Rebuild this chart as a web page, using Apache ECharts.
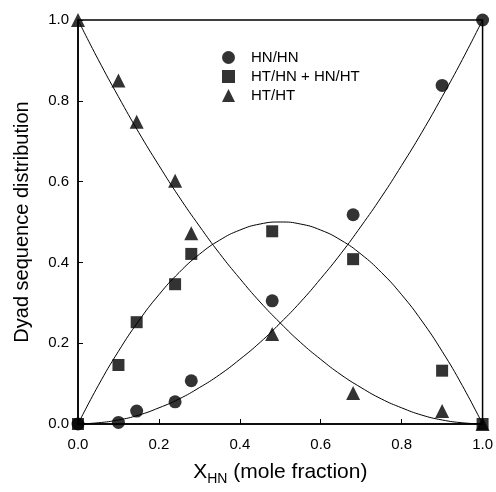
<!DOCTYPE html>
<html>
<head>
<meta charset="utf-8">
<script src="https://cdn.jsdelivr.net/npm/echarts@6/dist/echarts.min.js"></script>
<style>
  html, body { margin: 0; padding: 0; background: #fff; }
  #main { width: 496px; height: 492px; }
</style>
</head>
<body>
<div id="main"></div>
<script>
// measured points
const xData = [0, 0.1, 0.145, 0.24, 0.28, 0.48, 0.68, 0.9, 1.0];
const hnhn = [0, 0.004, 0.032, 0.055, 0.107, 0.305, 0.518, 0.838, 1.0];
const hthn = [0, 0.146, 0.252, 0.346, 0.421, 0.477, 0.408, 0.132, 0];
const htht = [1.0, 0.85, 0.748, 0.602, 0.472, 0.223, 0.077, 0.032, 0];

// fitted curves, every 0.05
const curveX = [0, 0.05, 0.1, 0.15, 0.2, 0.25, 0.3, 0.35, 0.4, 0.45, 0.5, 0.55, 0.6, 0.65, 0.7, 0.75, 0.8, 0.85, 0.9, 0.95, 1.0];
const curveHN = [0, 0.003, 0.01, 0.022, 0.04, 0.062, 0.09, 0.122, 0.16, 0.202, 0.25, 0.302, 0.36, 0.422, 0.49, 0.562, 0.64, 0.722, 0.81, 0.902, 1.0];
const curveHT = [0, 0.095, 0.18, 0.255, 0.32, 0.375, 0.42, 0.455, 0.48, 0.495, 0.5, 0.495, 0.48, 0.455, 0.42, 0.375, 0.32, 0.255, 0.18, 0.095, 0];
const curveTT = [1.0, 0.902, 0.81, 0.722, 0.64, 0.562, 0.49, 0.422, 0.36, 0.302, 0.25, 0.202, 0.16, 0.122, 0.09, 0.062, 0.04, 0.022, 0.01, 0.003, 0];

const names = ['HN/HN', 'HT/HN + HN/HT', 'HT/HT'];
const font = 'Liberation Sans, Arial, sans-serif';

const pairs = (xs, ys) => xs.map((x, i) => [x, ys[i]]);

const chart = echarts.init(document.getElementById('main'));

const curve = ys => ({
  type: 'line',
  data: pairs(curveX, ys),
  smooth: true,
  showSymbol: false,
  silent: true,
  z: 1,
  lineStyle: { color: '#000', width: 1 }
});

const axisCommon = {
  type: 'value',
  min: 0,
  max: 1,
  interval: 0.2,
  axisLine: { show: true, onZero: false, lineStyle: { color: '#000', width: 1.5 } },
  axisTick: { show: true, inside: true, length: 5, lineStyle: { color: '#000', width: 1 } },
  axisLabel: { color: '#000', fontSize: 15, fontFamily: font, formatter: v => v.toFixed(1) },
  splitLine: { show: false }
};

chart.setOption({
  animation: false,
  textStyle: { fontFamily: font },
  grid: {
    left: 78, top: 20, right: 13, bottom: 68,
    show: true, borderColor: '#000', borderWidth: 1.5, backgroundColor: '#fff'
  },
  legend: {
    orient: 'vertical',
    left: 217,
    top: 45,
    itemWidth: 13,
    itemHeight: 13,
    itemGap: 4,
    itemStyle: { color: '#000' },
    textStyle: { color: '#000', fontSize: 15, fontFamily: font, padding: [0, 0, 0, 11] },
    data: [
      { name: names[0], icon: 'circle' },
      { name: names[1], icon: 'rect' },
      { name: names[2], icon: 'triangle' }
    ]
  },
  xAxis: Object.assign({}, axisCommon, {
    name: '{a|X}{b|HN}{a| (mole fraction)}',
    nameLocation: 'middle',
    nameGap: 35,
    nameTextStyle: {
      rich: {
        a: { fontSize: 21, fontFamily: font, color: '#000' },
        b: { fontSize: 14, fontFamily: font, color: '#000', padding: [13, 0, 0, 0] }
      }
    },
    axisLabel: Object.assign({}, axisCommon.axisLabel, { margin: 13 })
  }),
  yAxis: Object.assign({}, axisCommon, {
    name: 'Dyad sequence distribution',
    nameLocation: 'middle',
    nameGap: 46,
    nameTextStyle: { fontSize: 20, fontFamily: font, color: '#000' },
    axisLabel: Object.assign({}, axisCommon.axisLabel, { margin: 9 })
  }),
  series: [
    curve(curveHN),
    curve(curveHT),
    curve(curveTT),
    {
      name: names[0], type: 'scatter', symbol: 'circle', symbolSize: 13, z: 3,
      itemStyle: { color: '#000' }, data: pairs(xData, hnhn)
    },
    {
      name: names[1], type: 'scatter', symbol: 'rect', symbolSize: 12, z: 3,
      itemStyle: { color: '#000' }, data: pairs(xData, hthn)
    },
    {
      name: names[2], type: 'scatter', symbol: 'triangle', symbolSize: 14, z: 3,
      itemStyle: { color: '#000' }, data: pairs(xData, htht)
    }
  ]
});
</script>
</body>
</html>
